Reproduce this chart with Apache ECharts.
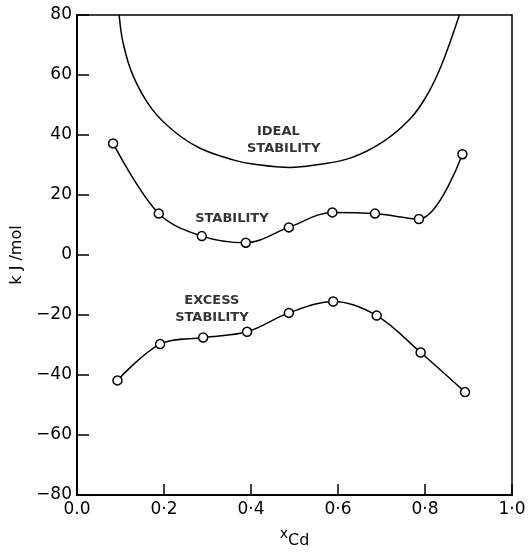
<!DOCTYPE html>
<html>
<head>
<meta charset="utf-8">
<script src="https://cdn.jsdelivr.net/npm/echarts@6/dist/echarts.min.js"></script>
<style>html,body{margin:0;padding:0;background:#fff}#c{width:529px;height:554px}</style>
</head>
<body>
<div id="c"></div>
<script>
// x ticks and labels
const xTicks = [0, 0.2, 0.4, 0.6, 0.8, 1.0];
const xTickLabels = ['0.0', '0·2', '0·4', '0·6', '0·8', '1·0'];
const yTicks = [-80, -60, -40, -20, 0, 20, 40, 60, 80];

// Ideal stability curve
const idealX = [0.097, 0.106, 0.129, 0.172, 0.225, 0.283, 0.359, 0.40, 0.49, 0.551, 0.628, 0.704, 0.766, 0.804, 0.834, 0.857, 0.879];
const idealY = [80, 70.7, 59.7, 48.7, 41.0, 35.6, 31.7, 30.4, 29.2, 30.1, 32.3, 37.8, 45.4, 53.1, 61.9, 70.7, 80];

// Stability
const stabX = [0.083, 0.188, 0.287, 0.388, 0.487, 0.587, 0.685, 0.786, 0.886];
const stabY = [37.2, 13.8, 6.3, 4.1, 9.2, 14.2, 13.8, 12.0, 33.6];

// Excess stability
const excX = [0.093, 0.191, 0.29, 0.391, 0.487, 0.589, 0.689, 0.79, 0.892];
const excY = [-41.8, -29.7, -27.5, -25.6, -19.3, -15.5, -20.2, -32.5, -45.7];

// Curve annotations (text, x, y in data units)
const noteText = ['IDEAL', 'STABILITY', 'STABILITY', 'EXCESS', 'STABILITY'];
const noteX = [0.463, 0.475, 0.356, 0.310, 0.310];
const noteY = [41.2, 35.6, 12.0, -15.2, -21.0];

const zip = (a, b) => a.map((v, i) => [v, b[i]]);
const font = 'DejaVu Sans, sans-serif';

const chart = echarts.init(document.getElementById('c'), null, {renderer: 'canvas'});
chart.setOption({
  animation: false,
  backgroundColor: '#fff',
  grid: {left: 77, right: 17, top: 15, bottom: 53, show: true, borderColor: '#000', borderWidth: 1.5, backgroundColor: 'transparent'},
  xAxis: {
    type: 'value', min: 0, max: 1, interval: 0.2,
    axisLine: {show: true, onZero: false, lineStyle: {color: '#000', width: 2}},
    axisTick: {show: true, inside: true, length: 11, lineStyle: {color: '#000', width: 1.5}},
    splitLine: {show: false},
    axisLabel: {
      color: '#000', fontSize: 17, fontFamily: font, margin: 6,
      formatter: v => { const i = xTicks.findIndex(t => Math.abs(t - v) < 1e-6); return i >= 0 ? xTickLabels[i] : ''; }
    },
    name: '{x|x}{s|Cd}', nameLocation: 'middle', nameGap: 32,
    nameTextStyle: {rich: {x: {fontSize: 14, fontFamily: font, color: '#000', verticalAlign: 'bottom', padding: [0, 0, 8, 0]}, s: {fontSize: 16, fontFamily: font, color: '#000', verticalAlign: 'bottom'}}}
  },
  yAxis: {
    type: 'value', min: -80, max: 80, interval: 20,
    axisLine: {show: true, lineStyle: {color: '#000', width: 2}},
    axisTick: {show: true, inside: true, length: 12, lineStyle: {color: '#000', width: 1.5}},
    splitLine: {show: false},
    axisLabel: {color: '#000', fontSize: 17, fontFamily: font, margin: 5, formatter: v => yTicks.includes(v) ? String(v).replace('-', '−') : ''},
    name: 'k J /mol', nameLocation: 'middle', nameGap: 46,
    nameTextStyle: {color: '#000', fontSize: 16, fontFamily: font}
  },
  series: [
    {
      type: 'line', data: zip(idealX, idealY), smooth: 0.4, showSymbol: false, clip: true,
      lineStyle: {color: '#000', width: 1.5}
    },
    {
      type: 'line', data: zip(stabX, stabY), smooth: 0.35, symbol: 'circle', symbolSize: 9,
      itemStyle: {color: '#fff', borderColor: '#000', borderWidth: 1.5},
      lineStyle: {color: '#000', width: 1.5}
    },
    {
      type: 'line', data: zip(excX, excY), smooth: 0.35, symbol: 'circle', symbolSize: 9,
      itemStyle: {color: '#fff', borderColor: '#000', borderWidth: 1.5},
      lineStyle: {color: '#000', width: 1.5}
    },
    {
      type: 'scatter', symbolSize: 0, silent: true,
      data: zip(noteX, noteY),
      label: {
        show: true, position: 'inside', align: 'center', color: '#000', textBorderWidth: 0, fontSize: 13, fontWeight: 'bold', fontFamily: font,
        formatter: p => noteText[p.dataIndex]
      }
    }
  ]
});
</script>
</body>
</html>
